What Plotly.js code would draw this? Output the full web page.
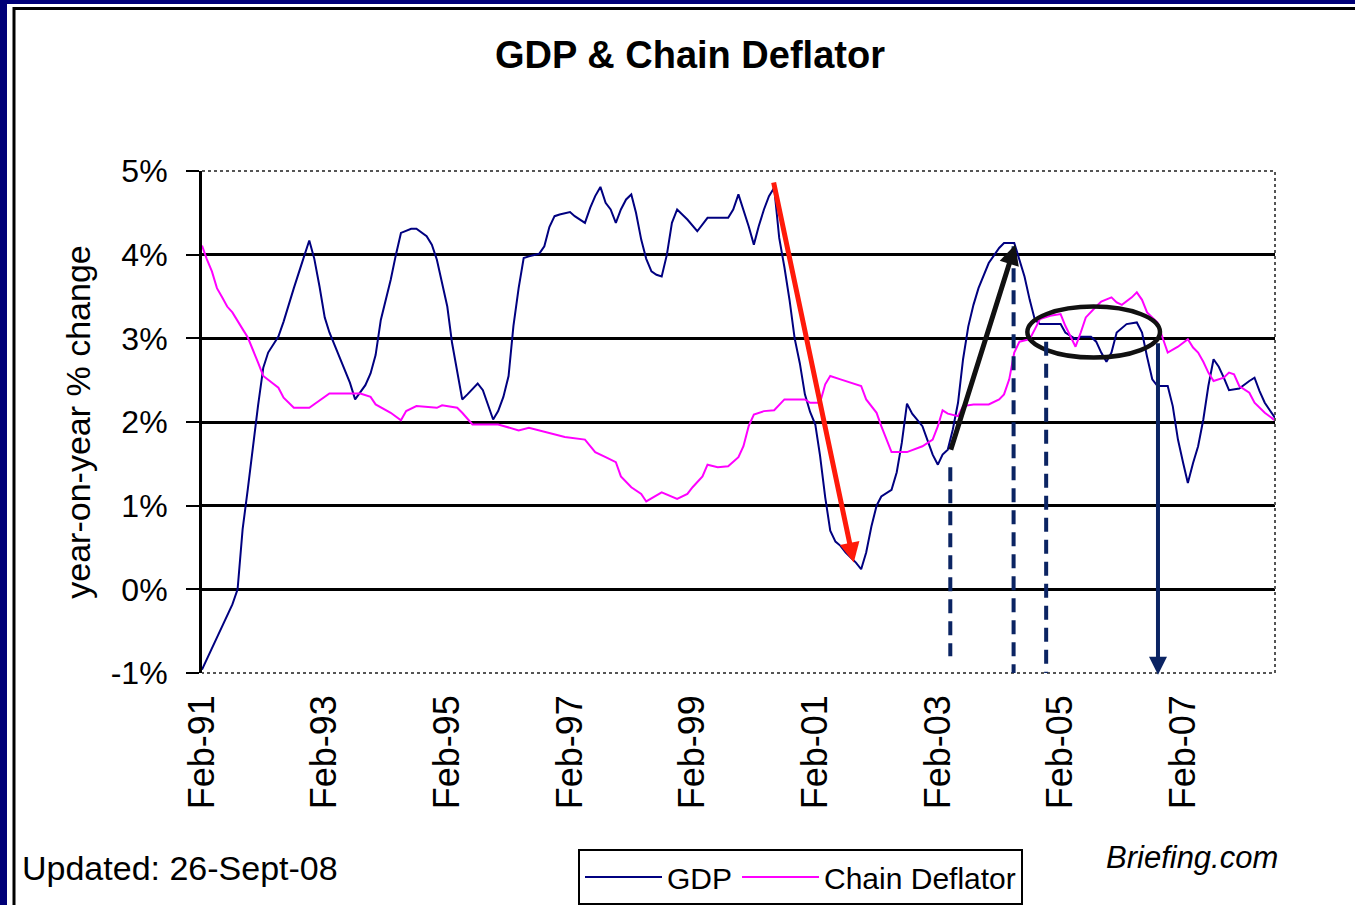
<!DOCTYPE html>
<html>
<head>
<meta charset="utf-8">
<script src="https://cdn.plot.ly/plotly-3.0.1.min.js"></script>
<style>html,body{margin:0;padding:0;background:#fff;}#chart{width:1355px;height:905px;}</style>
</head>
<body>
<div id="chart"></div>
<script>
// ---- DATA (x = months since Feb-91, y = year-on-year % change) ----
const startYear = 1991, startMonth = 2; // Feb-91

const gdpMonths = [0,6,7,8,9,10,11,12,13,15,16,18,19,20,21,22,23,24,25,26,27,28,29,30,31,32,33,34,35,36,37,38,39,41,42,44,45,46,47,48,49,50,51,52,54,55,56,57,58,59,60,61,62,63,64,66,67,68,69,70,72,73,75,76,77,78,79,80,81,82,83,84,85,86,87,88,89,90,91,92,93,95,97,98,99,103,104,105,106,107,108,109,110,111,112,113,114,115,116,117,118,119,120,121,122,123,124,125,126,128,129,130,131,132,133,135,136,137,138,139,141,142,143,144,145,146,147,148,149,150,151,152,153,154,156,157,159,160,161,162,163,164,168,169,171,172,174,175,176,177,178,179,181,183,184,185,186,187,189,190,191,192,193,194,195,196,197,198,199,200,201,203,204,205,206,207,208,210];
const gdpValues = [-0.96,-0.18,0.0,0.72,1.2,1.7,2.2,2.65,2.83,3.02,3.2,3.6,3.78,3.98,4.17,3.95,3.62,3.25,3.07,2.92,2.78,2.62,2.47,2.27,2.35,2.44,2.58,2.8,3.22,3.46,3.7,4.0,4.26,4.31,4.31,4.22,4.12,3.94,3.67,3.38,2.95,2.6,2.27,2.33,2.46,2.38,2.22,2.03,2.13,2.3,2.55,3.15,3.6,3.96,3.98,4.01,4.1,4.33,4.46,4.48,4.51,4.46,4.38,4.56,4.7,4.81,4.62,4.54,4.38,4.54,4.66,4.72,4.5,4.18,3.95,3.8,3.76,3.74,4.0,4.38,4.54,4.42,4.28,4.36,4.44,4.44,4.54,4.72,4.54,4.34,4.12,4.34,4.54,4.7,4.8,4.2,3.85,3.45,3.0,2.7,2.33,2.12,1.97,1.6,1.1,0.7,0.57,0.52,0.44,0.32,0.24,0.44,0.75,1.0,1.11,1.19,1.4,1.75,2.22,2.1,1.95,1.77,1.61,1.49,1.61,1.67,1.91,2.23,2.75,3.14,3.4,3.6,3.75,3.9,4.08,4.14,4.14,3.94,3.74,3.46,3.22,3.17,3.17,3.07,2.99,3.02,3.02,2.96,2.83,2.72,2.83,3.07,3.17,3.19,3.07,2.78,2.51,2.43,2.43,2.19,1.79,1.51,1.27,1.51,1.71,2.03,2.43,2.75,2.66,2.53,2.38,2.4,2.45,2.49,2.53,2.37,2.23,2.05];

const deflMonths = [0,1,2,3,4,5,6,7,8,9,10,11,12,14,15,16,18,21,22,24,25,31,33,34,37,39,40,42,46,47,50,51,53,58,62,64,67,71,75,77,79,81,82,84,86,87,90,93,95,96,98,99,101,103,105,106,107,108,110,112,114,118,119,121,122,123,125,127,129,130,132,133,134,135,138,141,143,144,145,146,148,149,151,154,156,157,158,159,160,162,163,164,166,168,169,170,171,172,173,175,176,178,179,180,182,183,184,185,187,188,189,191,193,194,195,196,197,198,200,201,202,203,205,206,208,210];
const deflValues = [4.11,3.95,3.8,3.6,3.49,3.38,3.31,3.2,3.11,3.01,2.87,2.71,2.55,2.45,2.41,2.29,2.17,2.17,2.21,2.3,2.34,2.34,2.3,2.21,2.11,2.02,2.13,2.19,2.17,2.2,2.17,2.11,1.97,1.97,1.9,1.93,1.88,1.82,1.79,1.64,1.58,1.52,1.35,1.22,1.14,1.05,1.16,1.08,1.14,1.22,1.35,1.49,1.46,1.47,1.58,1.71,1.95,2.09,2.13,2.14,2.27,2.27,2.23,2.23,2.45,2.55,2.51,2.47,2.43,2.27,2.11,1.95,1.79,1.64,1.64,1.71,1.79,1.95,2.14,2.1,2.07,2.19,2.21,2.21,2.27,2.33,2.51,2.83,2.96,2.99,3.11,3.23,3.27,3.29,3.15,3.03,2.9,3.07,3.25,3.38,3.44,3.49,3.43,3.4,3.49,3.55,3.46,3.31,3.19,3.01,2.83,2.9,2.99,2.89,2.83,2.72,2.59,2.49,2.53,2.59,2.57,2.43,2.35,2.23,2.11,2.02];

const seriesNames = ['GDP', 'Chain Deflator'];
const yTickValues = [-1, 0, 1, 2, 3, 4, 5];
const yTickLabels = ['-1%', '0%', '1%', '2%', '3%', '4%', '5%'];

// Hand-drawn overlays (months since Feb-91, %)
const redArrow   = {from: [111.9, 4.88], to: [127.6, 0.32]};
const blackArrow = {from: [146.5, 1.65], to: [159.2, 4.12]};
const dashedMarkers = [ [146.5, 1.46, -0.8], [158.9, 4.1, -1.04], [165.2, 2.96, -1.04] ];
const downArrow  = {month: 187.1, from: 2.96, to: -1.02};
const ellipse    = {m0: 161.6, m1: 187.5, v0: 2.77, v1: 3.38};

// ---- helpers ----
function toDate(m) {
  const whole = Math.floor(m), frac = m - whole;
  const tot = (startMonth - 1) + whole;
  const y = startYear + Math.floor(tot / 12);
  const mo = tot % 12 + 1;
  const day = 1 + Math.round(frac * 29);
  return y + '-' + String(mo).padStart(2, '0') + '-' + String(day).padStart(2, '0');
}
const FONT = 'Liberation Sans, Arial, sans-serif';
const W = 1355, H = 905;
const M = {l: 202, r: 80, t: 171, b: 232};
const PW = W - M.l - M.r, PH = H - M.t - M.b;
const px2x = px => (px - M.l) / PW;
const py2y = py => (H - M.b - py) / PH;
const navy = '#0b2463';

const traces = [
  {x: gdpMonths.map(toDate), y: gdpValues, name: seriesNames[0], type: 'scatter', mode: 'lines',
   line: {color: '#000080', width: 2}},
  {x: deflMonths.map(toDate), y: deflValues, name: seriesNames[1], type: 'scatter', mode: 'lines',
   line: {color: '#ff00ff', width: 2}}
];

const shapes = [
  // page frame
  {type: 'rect', xref: 'paper', yref: 'paper', x0: px2x(0), x1: px2x(W), y0: py2y(0), y1: py2y(4), fillcolor: '#000078', line: {width: 0}},
  {type: 'rect', xref: 'paper', yref: 'paper', x0: px2x(0), x1: px2x(7), y0: py2y(0), y1: py2y(H), fillcolor: '#000078', line: {width: 0}},
  {type: 'line', xref: 'paper', yref: 'paper', x0: px2x(13), x1: px2x(W), y0: py2y(8.5), y1: py2y(8.5), line: {color: 'black', width: 3}},
  {type: 'line', xref: 'paper', yref: 'paper', x0: px2x(14), x1: px2x(14), y0: py2y(7), y1: py2y(H), line: {color: 'black', width: 3}},
  // dotted plot frame (top, right, bottom)
  {type: 'path', xref: 'paper', yref: 'paper', path: 'M0,1 L1,1 L1,0 L0,0', line: {color: '#555', width: 2, dash: 'dot'}, layer: 'above'},
  // ellipse
  {type: 'circle', xref: 'x', yref: 'y', x0: toDate(ellipse.m0), x1: toDate(ellipse.m1), y0: ellipse.v0, y1: ellipse.v1,
   line: {color: '#111', width: 4.5}}
];
dashedMarkers.forEach(d => shapes.push({
  type: 'line', xref: 'x', yref: 'y', x0: toDate(d[0]), x1: toDate(d[0]), y0: d[1], y1: d[2],
  line: {color: navy, width: 4, dash: '14px,8px'}
}));

function arrow(a, color, width, size) {
  return {x: toDate(a.to[0]), y: a.to[1], ax: toDate(a.from[0]), ay: a.from[1], axref: 'x', ayref: 'y',
          xref: 'x', yref: 'y', text: '', showarrow: true, arrowhead: 2, arrowsize: size, arrowwidth: width,
          arrowcolor: color, standoff: 0, startstandoff: 0};
}

const annotations = [
  arrow(redArrow, '#ff1a0a', 5, 0.8),
  arrow(blackArrow, '#111', 5, 0.8),
  arrow({from: [downArrow.month, downArrow.from], to: [downArrow.month, downArrow.to]}, navy, 4, 0.9),
  {xref: 'paper', yref: 'paper', x: px2x(20), y: py2y(868), xanchor: 'left', yanchor: 'middle', showarrow: false,
   text: 'Updated: 26-Sept-08', font: {family: FONT, size: 34, color: 'black'}},
  {xref: 'paper', yref: 'paper', x: px2x(1104), y: py2y(857), xanchor: 'left', yanchor: 'middle', showarrow: false,
   text: 'Briefing.com', font: {family: FONT, size: 31, color: 'black', style: 'italic'}}
];

const layout = {
  width: W, height: H,
  margin: {l: M.l, r: M.r, t: M.t, b: M.b, pad: 0},
  paper_bgcolor: 'white', plot_bgcolor: 'white',
  title: {text: 'GDP & Chain Deflator', font: {family: FONT, size: 38, color: 'black', weight: 'bold'},
          xref: 'container', yref: 'container', x: 690 / W, y: 1 - 55 / H, xanchor: 'center', yanchor: 'middle'},
  xaxis: {type: 'date', range: [toDate(0), toDate(210)], tick0: toDate(0), dtick: 'M24', tickformat: '%b-%y',
          tickangle: -90, showgrid: false, zeroline: false, showline: false, ticks: '', ticklabelstandoff: 14,
          automargin: false, tickfont: {family: FONT, size: 36, color: 'black'}},
  yaxis: {range: [-1, 5], tickmode: 'array', tickvals: yTickValues, ticktext: yTickLabels, showgrid: true,
          gridcolor: 'black', gridwidth: 3, automargin: false,
          zeroline: false, showline: true, linecolor: 'black', linewidth: 3, ticks: 'outside', ticklen: 13,
          tickwidth: 2, tickcolor: 'black', ticklabelstandoff: 12,
          tickfont: {family: FONT, size: 32, color: 'black'},
          title: {text: 'year-on-year % change', font: {family: FONT, size: 34, color: 'black'}, standoff: 10}},
  showlegend: true,
  legend: {orientation: 'h', xref: 'container', yref: 'container', x: 578 / W, y: 1 - 849 / H,
           xanchor: 'left', yanchor: 'top',
           bgcolor: 'white', bordercolor: 'black', borderwidth: 2, font: {family: FONT, size: 30, color: 'black'},
           itemwidth: 77},
  shapes: shapes,
  annotations: annotations
};

Plotly.newPlot('chart', traces, layout, {displayModeBar: false, staticPlot: true});
</script>
</body>
</html>
